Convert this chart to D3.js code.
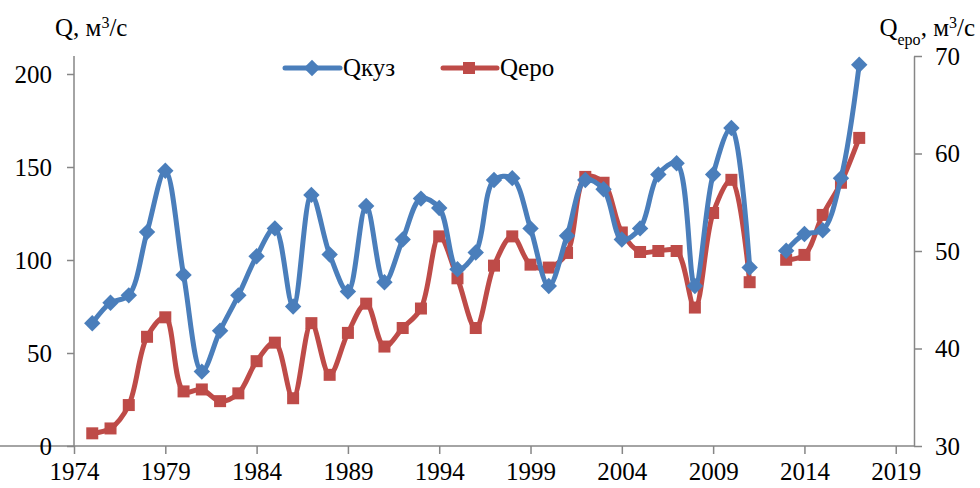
<!DOCTYPE html>
<html><head><meta charset="utf-8">
<script src="https://cdn.jsdelivr.net/npm/d3@7"></script>
<style>body{margin:0;background:#fff}svg{display:block}</style>
</head><body>
<svg id="chart" width="980" height="488"></svg>
<script>
const years = [1975,1976,1977,1978,1979,1980,1981,1982,1983,1984,1985,1986,1987,1988,1989,1990,1991,1992,1993,1994,1995,1996,1997,1998,1999,2000,2001,2002,2003,2004,2005,2006,2007,2008,2009,2010,2011,2012,2013,2014,2015,2016,2017];
const qKuz = [66,77,81,115,148,92,40,62,81,102,117,75,135,103,83,129,88,111,133,128,95,104,143,144,117,86,113,143,138,111,117,146,152,86,146,171,96,null,105,114,116,144,205];
const qEro = [31.3,31.8,34.2,41.2,43.2,35.6,35.8,34.6,35.4,38.7,40.6,34.9,42.6,37.3,41.6,44.6,40.2,42.1,44.1,51.5,47.2,42.1,48.5,51.5,48.6,48.3,49.8,57.6,57.0,51.9,49.9,50.0,50.0,44.2,53.9,57.3,46.8,null,49.1,49.6,53.7,57.0,61.6];
const xTicks = [1974,1979,1984,1989,1994,1999,2004,2009,2014,2019];
const yLeftTicks = [0,50,100,150,200];
const yRightTicks = [30,40,50,60,70];

const svg = d3.select("#chart");
const L = 74, R = 914, T = 56, B = 446;
const font = "Liberation Serif";
const axisColor = "#868686";
const blue = "#4A7EBB", red = "#BE4B48";

const x = d3.scaleLinear().domain([1974, 2020]).range([L, R]);
const yL = d3.scaleLinear().domain([0, 200]).range([B, 74]);
const yR = d3.scaleLinear().domain([30, 70]).range([B, T]);

// axes
const gx = svg.append("g").attr("transform", `translate(0,${B})`)
  .call(d3.axisBottom(x).tickValues(xTicks).tickFormat(d3.format("d")).tickSize(8).tickSizeOuter(0));
const gl = svg.append("g").attr("transform", `translate(${L},0)`)
  .call(d3.axisLeft(yL).tickValues(yLeftTicks).tickSize(7).tickSizeOuter(0));
const gr = svg.append("g").attr("transform", `translate(${R},0)`)
  .call(d3.axisRight(yR).tickValues(yRightTicks).tickSize(8).tickSizeOuter(0));
[gx, gl, gr].forEach(g => {
  g.attr("font-family", font).attr("font-size", 25);
  g.selectAll("path.domain").attr("stroke", axisColor).attr("stroke-width", 1.5);
  g.selectAll(".tick line").attr("stroke", axisColor).attr("stroke-width", 1.5);
  g.selectAll(".tick text").attr("fill", "#000");
});
gl.select("path.domain").attr("d", `M0,${B}V${T}`);
gx.select("path.domain").attr("d", `M0,0H${R}`);
gx.selectAll(".tick text").attr("dy", "0.95em").attr("y", 10);
gl.selectAll(".tick text").attr("x", -22);
gr.selectAll(".tick text").attr("x", 21);

// lines
const curve = d3.curveCatmullRom.alpha(0.5);
const lineL = d3.line().defined((d, i) => qKuz[i] != null).x((d, i) => x(years[i])).y((d, i) => yL(qKuz[i])).curve(curve);
const lineR = d3.line().defined((d, i) => qEro[i] != null).x((d, i) => x(years[i])).y((d, i) => yR(qEro[i])).curve(curve);

svg.append("path").attr("d", lineR(years)).attr("fill", "none").attr("stroke", red).attr("stroke-width", 5).attr("stroke-linejoin", "round");
svg.append("g").selectAll("rect").data(years.map((yr, i) => [yr, qEro[i]]).filter(d => d[1] != null))
  .join("rect").attr("x", d => x(d[0]) - 6).attr("y", d => yR(d[1]) - 6).attr("width", 12).attr("height", 12).attr("fill", red);

svg.append("path").attr("d", lineL(years)).attr("fill", "none").attr("stroke", blue).attr("stroke-width", 5).attr("stroke-linejoin", "round");
const diamond = d3.symbol().type(d3.symbolDiamond2).size(110);
svg.append("g").selectAll("path").data(years.map((yr, i) => [yr, qKuz[i]]).filter(d => d[1] != null))
  .join("path").attr("d", diamond).attr("transform", d => `translate(${x(d[0])},${yL(d[1])}) scale(1.25)`).attr("fill", blue);

// legend
const lg = svg.append("g").attr("font-family", font).attr("font-size", 25);
lg.append("line").attr("x1", 285).attr("x2", 340).attr("y1", 68).attr("y2", 68).attr("stroke", blue).attr("stroke-width", 5).attr("stroke-linecap", "round");
lg.append("path").attr("d", diamond).attr("transform", "translate(312,68) scale(1.25)").attr("fill", blue);
lg.append("text").attr("x", 343).attr("y", 76).text("Qкуз");
lg.append("line").attr("x1", 443).attr("x2", 497).attr("y1", 68).attr("y2", 68).attr("stroke", red).attr("stroke-width", 5).attr("stroke-linecap", "round");
lg.append("rect").attr("x", 463).attr("y", 62).attr("width", 12).attr("height", 12).attr("fill", red);
lg.append("text").attr("x", 500).attr("y", 76).text("Qеро");

// axis titles
const tl = svg.append("text").attr("x", 55).attr("y", 36).attr("font-family", font).attr("font-size", 25);
tl.append("tspan").text("Q, м");
tl.append("tspan").text("3").attr("baseline-shift", "super").attr("font-size", 16);
tl.append("tspan").text("/с");

const tr = svg.append("text").attr("x", 975).attr("y", 36).attr("text-anchor", "end").attr("font-family", font).attr("font-size", 25);
tr.append("tspan").text("Q");
tr.append("tspan").text("еро").attr("baseline-shift", "sub").attr("font-size", 16);
tr.append("tspan").text(", м");
tr.append("tspan").text("3").attr("baseline-shift", "super").attr("font-size", 16);
tr.append("tspan").text("/с");
</script>
</body></html>
